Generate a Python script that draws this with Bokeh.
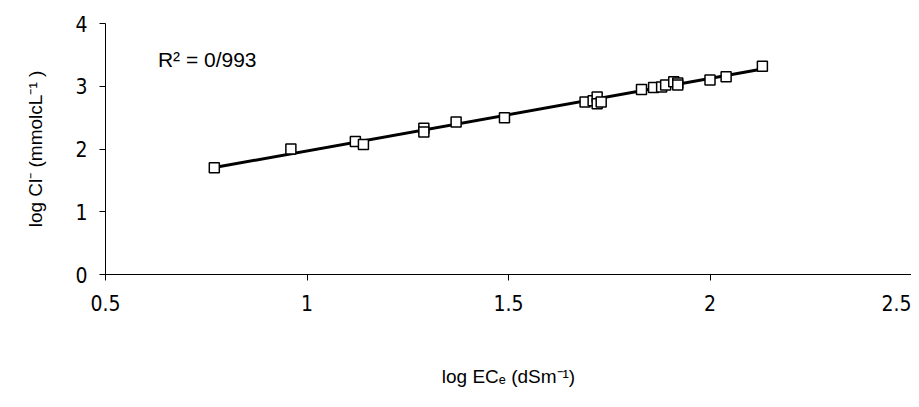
import numpy as np
from bokeh.plotting import figure
from bokeh.embed import file_html
from bokeh.resources import INLINE
from bokeh.models import Label

x = [0.77,0.96,1.12,1.14,1.29,1.29,1.37,1.49,1.69,1.71,1.72,1.72,1.73,1.83,1.86,1.88,1.89,1.91,1.92,1.92,2.00,2.04,2.13]
y = [1.70,2.00,2.12,2.07,2.33,2.27,2.43,2.50,2.75,2.77,2.83,2.72,2.75,2.95,2.98,2.99,3.02,3.07,3.05,3.02,3.10,3.15,3.32]
x_ticks = [0.5,1,1.5,2,2.5]
y_ticks = [0,1,2,3,4]

p = figure(width=911, height=391, output_backend="svg", toolbar_location=None,
           x_range=(0.5,2.5), y_range=(0,4), min_border_left=105, min_border_right=0,
           min_border_top=23, min_border_bottom=117)
p.grid.visible = False
p.outline_line_color = None
m, b = np.polyfit(x, y, 1)
xs = [min(x), max(x)]
p.line(xs, [m*v+b for v in xs], line_color="black", line_width=3)
p.scatter(x, y, marker="square", size=10, fill_color="white", line_color="black", line_width=1.5)
p.xaxis.ticker = x_ticks
p.yaxis.ticker = y_ticks
p.xaxis.major_label_overrides = {0.5:"0.5",1:"1",1.5:"1.5",2:"2",2.5:"2.5"}
for ax in (p.xaxis[0], p.yaxis[0]):
    ax.minor_tick_line_color = None
    ax.major_tick_out = 6
    ax.major_tick_in = 0
    ax.axis_line_color = "black"
    ax.major_label_text_font = "DejaVu Sans Condensed"
    ax.major_label_text_font_size = "21px"
    ax.major_label_text_color = "black"
    ax.axis_label_text_font = "Liberation Sans"
    ax.axis_label_text_font_style = "normal"
    ax.axis_label_text_font_size = "19px"
    ax.axis_label_text_color = "black"
p.xaxis.axis_label = "log ECₑ (dSm⁻¹)"
p.yaxis.axis_label = "log Cl⁻ (mmolcL⁻¹ )"
p.xaxis.major_label_standoff = 14
p.xaxis.axis_label_standoff = 52
p.yaxis.major_label_standoff = 12
p.yaxis.axis_label_standoff = 26
p.add_layout(Label(x=0.63, y=3.25, text="R² = 0/993", text_font="Liberation Sans",
                   text_font_size="21px", text_color="black"))
open("out.html", "w").write(file_html(p, INLINE))
